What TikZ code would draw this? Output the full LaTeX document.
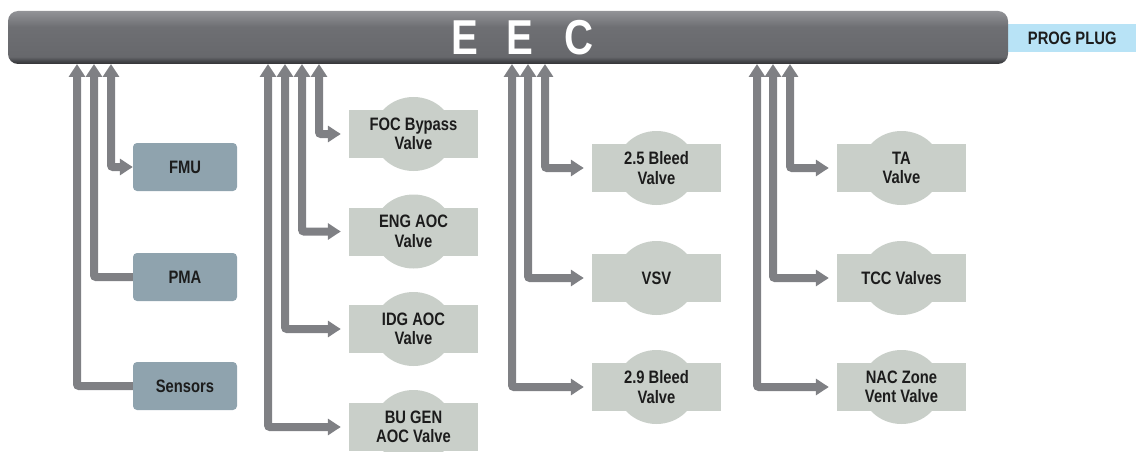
\documentclass[tikz,border=0pt]{standalone}
\usepackage{fontspec}
\setmainfont{Liberation Sans}[FakeStretch=0.82]
\usetikzlibrary{arrows.meta,calc}
\definecolor{connc}{HTML}{7F8084}
\definecolor{boxc}{HTML}{8FA3AE}
\definecolor{valvec}{HTML}{C9CFC9}
\definecolor{plugc}{HTML}{B8E3F6}
\definecolor{txtc}{HTML}{1C1C1C}
\definecolor{barbot}{HTML}{323234}
\definecolor{bardark}{HTML}{45464A}
\definecolor{barmid}{HTML}{67686C}
\definecolor{barmidb}{HTML}{6E6F73}
\definecolor{bartop}{HTML}{929397}
\pgfdeclareverticalshading{barshade}{100bp}{color(0bp)=(barbot); color(25bp)=(barbot); color(28bp)=(bardark); color(32bp)=(barmid); color(60bp)=(barmidb); color(75bp)=(bartop); color(100bp)=(bartop)}
\newcommand{\valveshape}[4]{%
  \fill[valvec] (#2,#3) ellipse[x radius=40, y radius=37];
  \node[valve] (#1) at (#2,#3) {#4};}
\begin{document}
\begin{tikzpicture}[x=1pt,y=-1pt,
  >={Triangle[width=16pt,length=13pt]},
  conn/.style={draw=connc, line width=8pt, rounded corners=2pt},
  lbl/.style={font=\fontsize{18}{19.5}\selectfont\bfseries, text=txtc, align=center},
  unitbox/.style={lbl, fill=boxc, rounded corners=4pt, minimum width=104pt, minimum height=48pt, inner sep=0pt},
  valve/.style={lbl, fill=valvec, minimum width=129pt, minimum height=48pt, inner sep=0pt}]
\useasboundingbox (0,0) rectangle (1136,452);
% PROG PLUG
\node[lbl, fill=plugc, minimum width=136pt, minimum height=28pt, inner sep=0pt, anchor=west] (plug) at (1000,38) {\hspace*{8pt}PROG PLUG};
% EEC bar
\node[shading=barshade, rounded corners=10pt, minimum width=1000pt, minimum height=53pt, inner sep=0pt] (eec) at (508,37.5) {};
\node[font=\fontsize{49}{49}\selectfont\bfseries, text=white, anchor=base, inner sep=0pt] (eectext) at (522.5,55) {E\hspace{29pt}E\hspace{31pt}C};
% tap coordinates on bar bottom
\foreach \n/\x in {s/77, p/94, f/111, bu/268, idg/285, eng/302, foc/319, nb/512, vsv/528, b25/545, nac/757, tcc/773, ta/790}
  \coordinate (t\n) at (\x,64);
% left units
\node[unitbox] (fmu) at (185,167) {FMU};
\node[unitbox] (pma) at (185,277) {PMA};
\node[unitbox] (sens) at (185,386) {Sensors};
% valves column 2
\valveshape{focv}{413.5}{134}{FOC Bypass\\Valve}
\valveshape{engv}{413.5}{231.5}{ENG AOC\\Valve}
\valveshape{idgv}{413.5}{329}{IDG AOC\\Valve}
\valveshape{buv}{413.5}{427}{BU GEN\\AOC Valve}
% valves column 3
\valveshape{b25v}{656.5}{168}{2.5 Bleed\\Valve}
\valveshape{vsvv}{656.5}{278}{VSV}
\valveshape{b29v}{656.5}{387}{2.9 Bleed\\Valve}
% valves column 4
\valveshape{tav}{901.5}{168}{TA\\Valve}
\valveshape{tccv}{901.5}{278}{TCC Valves}
\valveshape{nacv}{901.5}{387}{NAC Zone\\Vent Valve}
% connectors
\draw[conn,<->] (fmu.west) -| (tf);
\draw[conn,->] (pma.west) -| (tp);
\draw[conn,->] (sens.west) -| (ts);
\foreach \v/\t in {focv/foc, engv/eng, idgv/idg, buv/bu, b25v/b25, vsvv/vsv, b29v/nb, tav/ta, tccv/tcc, nacv/nac}
  \draw[conn,<->,shorten <=8pt] (\v.west) -| (t\t);
\end{tikzpicture}
\end{document}
